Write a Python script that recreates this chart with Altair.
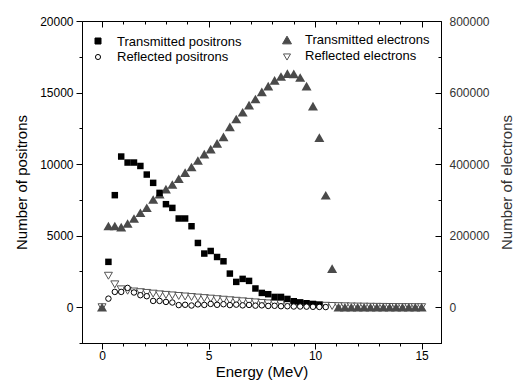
import altair as alt
import pandas as pd

# ---------------- data ----------------
energy = [0.0, 0.3, 0.6, 0.9, 1.2, 1.5, 1.8, 2.1, 2.4, 2.7, 3.0, 3.3, 3.6, 3.9, 4.2,
          4.5, 4.8, 5.1, 5.4, 5.7, 6.0, 6.3, 6.6, 6.9, 7.2, 7.5, 7.8, 8.1, 8.4, 8.7,
          9.0, 9.3, 9.6, 9.9, 10.2, 10.5, 10.8, 11.1, 11.4, 11.7, 12.0, 12.3, 12.6,
          12.9, 13.2, 13.5, 13.8, 14.1, 14.4, 14.7, 15.0]

# transmitted positrons, from 0.3 MeV to 10.2 MeV
trans_pos = [3170, 7830, 10530, 10110, 10110, 9870, 9270, 8690, 7990, 7200, 6940,
             6200, 6200, 5660, 4490, 3750, 3930, 3510, 3210, 2350, 1770, 1980, 1840,
             1310, 1000, 910, 720, 720, 580, 420, 340, 280, 230, 180]
# reflected positrons, from 0.3 MeV to 10.5 MeV
refl_pos = [600, 1070, 1070, 1350, 1030, 840, 770, 440, 440, 370, 330, 150, 170,
            120, 200, 160, 230, 170, 210, 150, 180, 130, 160, 110, 130, 90, 100, 70,
            70, 50, 50, 40, 30, 20, 10]
# transmitted electrons, 0..15 MeV
trans_ele = [0, 227000, 227000, 224000, 234000, 248000, 264000, 278000, 301000, 316000,
             330000, 343000, 359000, 376000, 392000, 410000, 428000, 442000, 458000,
             476000, 504000, 526000, 545000, 565000, 582000, 602000, 618000, 634000,
             645000, 653000, 652000, 642000, 618000, 562000, 474000, 313000, 108000,
             0, 0, 0, 0, 0, 0, 0, 0, 0, 0, 0, 0, 0, 0]
# reflected electrons, 0..15 MeV
refl_ele = [0, 88000, 64000, 50000, 46000, 44000, 42000, 40000, 38000, 36000, 34500,
            33000, 31500, 30000, 28500, 27000, 25500, 24000, 22500, 21000, 19500,
            18000, 16500, 15000, 13500, 12000, 10800, 9800, 8900, 8000, 7200, 6500,
            5800, 5200, 4600, 4000, 3500, 3000, 2600, 2200, 1900, 1600, 1300, 1100,
            900, 700, 500, 400, 300, 200, 150]

legend_labels = ["Transmitted positrons", "Reflected positrons",
                 "Transmitted electrons", "Reflected electrons"]

x_ticks = list(range(0, 16))
yl_ticks = list(range(-2500, 20001, 2500))
yr_label_ticks = [0, 200000, 400000, 600000, 800000]
yr_ticks = list(range(-100000, 800001, 100000))

# ---------------- layout / style ----------------
W, H = 359, 322
XD = [-0.94, 15.91]
YL = [-2500, 20000]
YR = [-100000, 800000]
FONT = "Liberation Sans"

tp_df = pd.DataFrame({"e": energy[1:1 + len(trans_pos)], "v": trans_pos})
rp_df = pd.DataFrame({"e": energy[1:1 + len(refl_pos)], "v": refl_pos})
te_df = pd.DataFrame({"e": energy[:len(trans_ele)], "v": trans_ele})
re_df = pd.DataFrame({"e": energy[:len(refl_ele)], "v": refl_ele})

def xs(axis=None):
    return alt.X("e:Q", scale=alt.Scale(domain=XD, nice=False, zero=False), axis=axis)

def yl(axis=None):
    return alt.Y("v:Q", scale=alt.Scale(domain=YL, nice=False, zero=False), axis=axis)

def yr(axis=None):
    return alt.Y("v:Q", scale=alt.Scale(domain=YR, nice=False, zero=False), axis=axis)

x_axis = alt.Axis(
    values=x_ticks, title="Energy (MeV)", format="d",
    labelExpr="datum.value % 5 === 0 ? datum.label : ''",
    tickSize={"condition": {"test": "datum.value % 5 === 0", "value": 6}, "value": 3},
    labelPadding=1, titlePadding=3, orient="bottom",
)
yl_axis = alt.Axis(
    values=yl_ticks, title="Number of positrons", format="d",
    labelExpr="datum.value >= 0 && datum.value % 5000 === 0 ? datum.label : ''",
    tickSize={"condition": {"test": "datum.value % 5000 === 0", "value": 6}, "value": 3},
    labelPadding=3, titlePadding=10, orient="left",
)
yr_axis = alt.Axis(
    values=yr_label_ticks, title="Number of electrons", format="d", ticks=False,
    labelPadding=8, titlePadding=10, orient="right", titleAngle=270,
    titleBaseline="top",
    labelColor="#333333", titleColor="#333333",
)

down_tri = alt.Chart(re_df).mark_point(
    shape="triangle-down", filled=True, fill="white", stroke="#555555", size=64,
    strokeWidth=1, opacity=1
).encode(x=xs(), y=yr())

up_tri = alt.Chart(te_df).mark_point(
    shape="triangle-up", filled=True, color="#4a4a4a", size=100, opacity=1
).encode(x=xs(), y=yr(yr_axis))

squares = alt.Chart(tp_df).mark_point(
    shape="square", filled=True, color="black", size=42, opacity=1
).encode(x=xs(x_axis), y=yl(yl_axis))

circles = alt.Chart(rp_df).mark_point(
    shape="circle", filled=True, fill="white", stroke="black", size=30,
    strokeWidth=1, opacity=1
).encode(x=xs(), y=yl())

# inward ticks on the top and right edges
top_axis = alt.Axis(
    values=x_ticks, labels=False, domain=False, title=None, orient="bottom", offset=-H,
    tickSize={"condition": {"test": "datum.value % 5 === 0", "value": 6}, "value": 3},
)
right_ticks_axis = alt.Axis(
    values=yr_ticks, labels=False, domain=False, title=None, orient="left", offset=-W,
    tickSize={"condition": {"test": "datum.value % 200000 === 0", "value": 6}, "value": 3},
)
tick_layer = alt.Chart(te_df).mark_point(opacity=0).encode(
    x=xs(top_axis), y=yr(right_ticks_axis)
)

# legend (manual)
leg = pd.DataFrame({
    "label": legend_labels,
    "sx": [16, 16, 205, 205],
    "sy": [20, 36, 19, 36],
    "tx": [35, 35, 223, 223],
    "ty": [21, 36, 19, 35],
    "shape": ["square", "circle", "triangle-up", "triangle-down"],
    "fill": ["black", "white", "#4a4a4a", "white"],
    "stroke": ["black", "black", "#4a4a4a", "#555555"],
    "size": [36, 26, 80, 50],
})
leg_sym = alt.Chart(leg).mark_point(opacity=1, strokeWidth=1, filled=True).encode(
    x=alt.X("sx:Q", scale=None), y=alt.Y("sy:Q", scale=None),
    shape=alt.Shape("shape:N", scale=None),
    fill=alt.Fill("fill:N", scale=None),
    stroke=alt.Stroke("stroke:N", scale=None),
    size=alt.Size("size:Q", scale=None),
)
leg_txt = alt.Chart(leg).mark_text(
    align="left", baseline="middle", font=FONT, fontSize=13, color="black"
).encode(x=alt.X("tx:Q", scale=None), y=alt.Y("ty:Q", scale=None), text="label:N")

chart = alt.layer(
    down_tri, up_tri, squares, circles, tick_layer, leg_sym, leg_txt
).resolve_scale(
    x="independent", y="independent"
).resolve_axis(
    x="independent", y="independent"
).properties(
    width=W, height=H,
    autosize=alt.AutoSizeParams(type="none"),
    padding={"left": 74, "top": 13, "right": 76, "bottom": 41},
).configure_view(
    stroke="black", strokeWidth=1
).configure_axis(
    domainColor="black", tickColor="black", domainWidth=1, tickWidth=1,
    labelFont=FONT, labelFontSize=12, labelColor="black",
    titleFont=FONT, titleFontSize=15, titleFontWeight="normal", titleColor="black",
    grid=False,
)

chart.save("out.html", embed_options={"renderer": "svg", "actions": False})
